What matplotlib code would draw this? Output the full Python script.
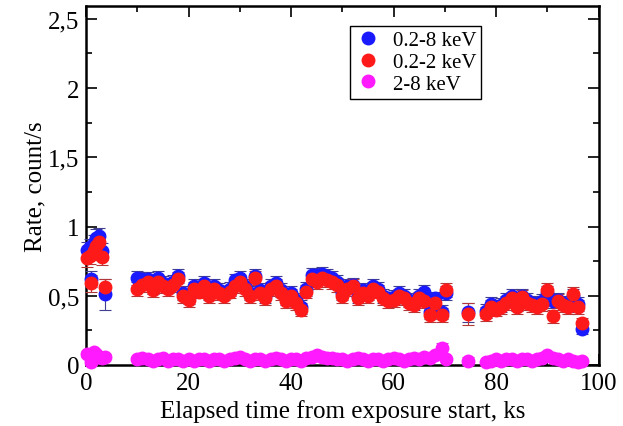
import matplotlib
matplotlib.use('Agg')
import matplotlib.pyplot as plt
from matplotlib.ticker import FuncFormatter, MultipleLocator
from matplotlib.lines import Line2D

plt.rcParams['font.family'] = ['Liberation Serif', 'DejaVu Serif']

# время, ks
t_start = [0.2, 0.7, 1.0, 1.5, 2.0, 2.5, 3.2, 3.8]
t_main = [10, 11, 12, 13, 14, 15, 16, 17, 18, 19,
          20, 21, 22, 23, 24, 25, 26, 27, 28, 29,
          30, 31, 32, 33, 34, 35, 36, 37, 38, 39,
          40, 41, 42, 43, 44, 45, 46, 47, 48, 49,
          50, 51, 52, 53, 54, 55, 56, 57, 58, 59,
          60, 61, 62, 63, 64, 65, 66, 67, 68, 69.4, 70.3]
t_mid = [74.5]
t_end = [78, 79, 80, 81, 82, 83, 84, 85, 86, 87,
         88, 89, 90, 91, 92, 93, 94, 95, 96, 96.7]

# 0.2-8 keV
blue_start = [0.83, 0.85, 0.62, 0.88, 0.92, 0.93, 0.82, 0.51]
blue_main = [0.63, 0.62, 0.62, 0.56, 0.63, 0.59, 0.57, 0.60, 0.64, 0.52,
             0.49, 0.57, 0.55, 0.59, 0.52, 0.57, 0.54, 0.52, 0.55, 0.61,
             0.63, 0.57, 0.52, 0.64, 0.54, 0.50, 0.57, 0.59, 0.54, 0.48,
             0.52, 0.47, 0.42, 0.55, 0.65, 0.65, 0.66, 0.64, 0.63, 0.60,
             0.52, 0.57, 0.58, 0.50, 0.54, 0.52, 0.57, 0.55, 0.50, 0.48,
             0.49, 0.52, 0.50, 0.47, 0.45, 0.50, 0.53, 0.38, 0.48, 0.38, 0.52]
blue_mid = [0.38]
blue_end = [0.39, 0.44, 0.42, 0.43, 0.47, 0.50, 0.44, 0.50, 0.47, 0.45,
            0.44, 0.46, 0.52, 0.46, 0.47, 0.45, 0.43, 0.50, 0.44, 0.26]

# 0.2-2 keV
red_start = [0.77, 0.79, 0.59, 0.82, 0.86, 0.89, 0.78, 0.56]
red_main = [0.55, 0.58, 0.60, 0.54, 0.60, 0.57, 0.55, 0.58, 0.62, 0.50,
            0.47, 0.55, 0.53, 0.57, 0.50, 0.55, 0.52, 0.50, 0.53, 0.57,
            0.60, 0.55, 0.50, 0.63, 0.52, 0.48, 0.55, 0.57, 0.52, 0.46,
            0.50, 0.45, 0.40, 0.53, 0.62, 0.60, 0.63, 0.61, 0.60, 0.58,
            0.50, 0.55, 0.57, 0.48, 0.52, 0.50, 0.55, 0.53, 0.48, 0.46,
            0.47, 0.50, 0.48, 0.45, 0.43, 0.48, 0.46, 0.36, 0.45, 0.36, 0.54]
red_mid = [0.37]
red_end = [0.37, 0.42, 0.40, 0.42, 0.45, 0.48, 0.42, 0.49, 0.45, 0.43,
           0.42, 0.44, 0.54, 0.35, 0.46, 0.43, 0.42, 0.51, 0.42, 0.30]

# 2-8 keV
mag_start = [0.08, 0.07, 0.02, 0.09, 0.08, 0.06, 0.05, 0.06]
mag_main = [0.04, 0.05, 0.04, 0.03, 0.04, 0.05, 0.03, 0.04, 0.04, 0.03,
            0.04, 0.03, 0.04, 0.04, 0.03, 0.04, 0.04, 0.03, 0.04, 0.05,
            0.06, 0.04, 0.03, 0.04, 0.04, 0.03, 0.04, 0.05, 0.04, 0.03,
            0.04, 0.04, 0.03, 0.05, 0.06, 0.07, 0.06, 0.05, 0.05, 0.04,
            0.04, 0.03, 0.04, 0.05, 0.04, 0.03, 0.04, 0.04, 0.03, 0.04,
            0.05, 0.04, 0.03, 0.04, 0.05, 0.04, 0.06, 0.05, 0.07, 0.12, 0.04]
mag_mid = [0.03]
mag_end = [0.02, 0.03, 0.04, 0.03, 0.04, 0.04, 0.03, 0.04, 0.04, 0.03,
           0.04, 0.05, 0.07, 0.05, 0.04, 0.03, 0.04, 0.03, 0.02, 0.03]

err_blue = [0.06, 0.06, 0.06, 0.06, 0.06, 0.06, 0.06, 0.11] + [0.05] * 61 + [0.07] + [0.05] * 19 + [0.04]
err_red = [0.06, 0.06, 0.06, 0.06, 0.06, 0.06, 0.06, 0.06] + [0.05] * 61 + [0.08] + [0.05] * 19 + [0.04]
err_mag = [0.02] * 8 + [0.015] * 59 + [0.04, 0.02] + [0.03] + [0.015] * 20

t_all = t_start + t_main + t_mid + t_end
blue = blue_start + blue_main + blue_mid + blue_end
red = red_start + red_main + red_mid + red_end
mag = mag_start + mag_main + mag_mid + mag_end

fig = plt.figure(figsize=(6.23, 4.27), dpi=100)
ax = fig.add_axes([0.138, 0.143, 0.823, 0.841])

series = [
    (blue, err_blue, '#1a1aff', '#404090', '0.2-8 keV'),
    (red, err_red, '#ff1a1a', '#b03838', '0.2-2 keV'),
    (mag, err_mag, '#ff1aff', '#d040d0', '2-8 keV'),
]
for vals, err, col, ecol, lab in series:
    ax.errorbar(t_all, vals, yerr=err, fmt='o', color=col, ms=9, mec=col,
                ecolor=ecol, elinewidth=0.8, capsize=4, capthick=0.8,
                clip_on=False, zorder=3)

ax.set_xlim(0, 100)
ax.set_ylim(0, 2.594)
ax.xaxis.set_major_locator(MultipleLocator(20))
ax.xaxis.set_minor_locator(MultipleLocator(10))
ax.yaxis.set_major_locator(MultipleLocator(0.5))
ax.yaxis.set_minor_locator(MultipleLocator(0.25))
ax.yaxis.set_major_formatter(FuncFormatter(lambda v, p: ('%g' % v).replace('.', ',')))
ax.tick_params(which='both', direction='in', top=True, right=True, labelsize=18, width=1.2)
ax.tick_params(which='major', length=8, pad=5)
ax.tick_params(which='minor', length=4)
for s in ax.spines.values():
    s.set_linewidth(1.8)

ax.set_xlabel('Elapsed time from exposure start, ks', fontsize=18, labelpad=4)
ax.set_ylabel('Rate, count/s', fontsize=18, labelpad=1)

handles = [Line2D([], [], marker='o', ls='none', color=c, ms=9) for c in ['#1a1aff', '#ff1a1a', '#ff1aff']]
leg = ax.legend(handles, ['0.2-8 keV', '0.2-2 keV', '2-8 keV'], loc='upper left',
                bbox_to_anchor=(0.515, 0.945), fontsize=15, fancybox=False,
                framealpha=1, edgecolor='black', handletextpad=0.6,
                borderpad=0.25, labelspacing=0.1, handlelength=1.2, borderaxespad=0)
leg.get_frame().set_linewidth(1.0)

fig.savefig('out.png', dpi=100)
